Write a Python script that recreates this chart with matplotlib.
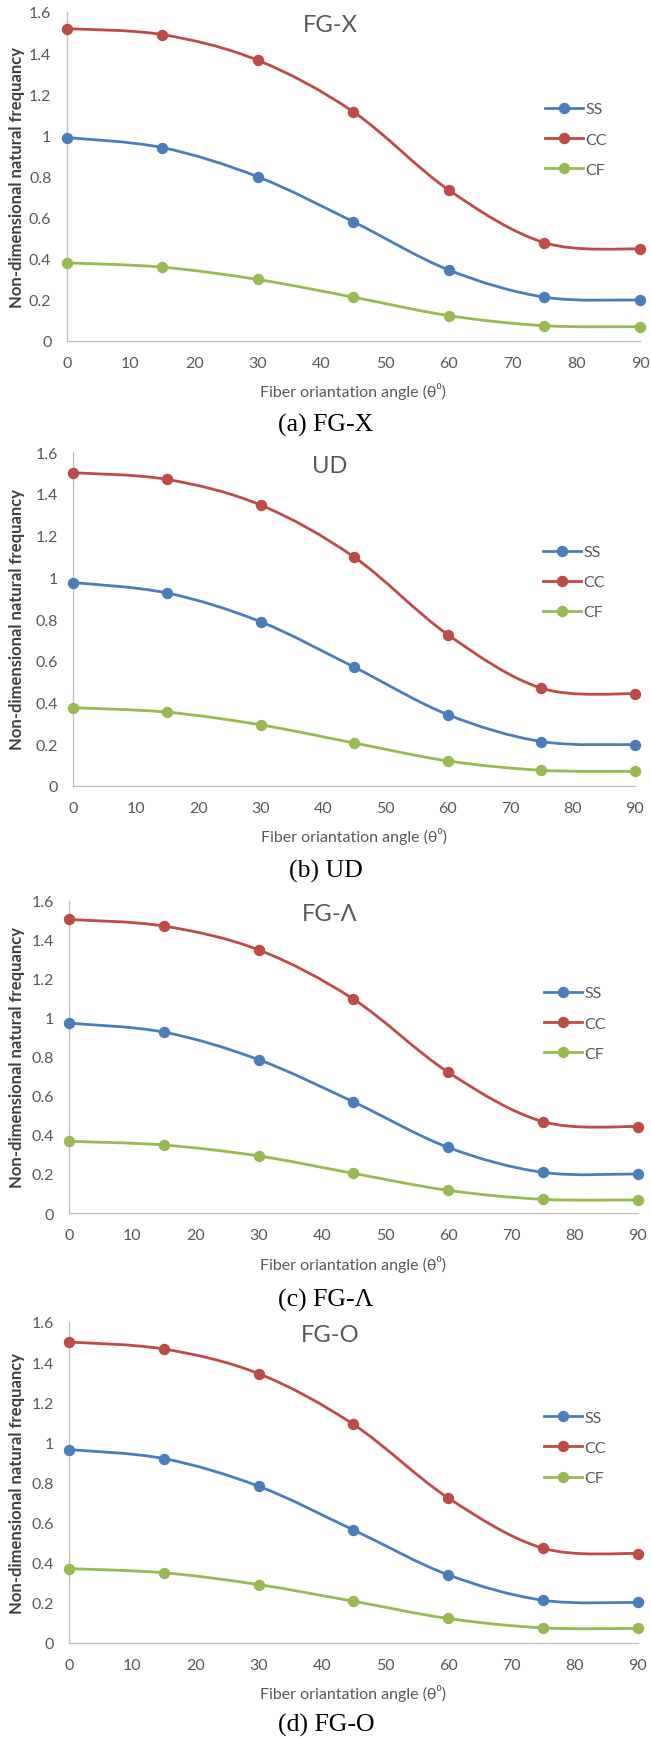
import numpy as np
import matplotlib
matplotlib.use("Agg")
import matplotlib.pyplot as plt
from matplotlib.path import Path
from matplotlib.patches import PathPatch
from matplotlib.lines import Line2D

plt.rcParams['font.family'] = ['Lato', 'DejaVu Sans']

# ---------------- data ----------------
angles = [0, 15, 30, 45, 60, 75, 90]
series_names = ["SS", "CC", "CF"]

fgx_ss = [0.989, 0.940, 0.798, 0.579, 0.344, 0.212, 0.198]
fgx_cc = [1.519, 1.490, 1.365, 1.114, 0.733, 0.477, 0.446]
fgx_cf = [0.379, 0.358, 0.298, 0.212, 0.122, 0.073, 0.068]

ud_ss = [0.975, 0.925, 0.787, 0.569, 0.341, 0.212, 0.197]
ud_cc = [1.502, 1.470, 1.347, 1.097, 0.725, 0.468, 0.441]
ud_cf = [0.374, 0.353, 0.292, 0.205, 0.119, 0.074, 0.069]

fgl_ss = [0.972, 0.926, 0.785, 0.569, 0.336, 0.208, 0.200]
fgl_cc = [1.503, 1.469, 1.347, 1.095, 0.721, 0.468, 0.442]
fgl_cf = [0.367, 0.348, 0.292, 0.203, 0.116, 0.070, 0.067]

fgo_ss = [0.963, 0.918, 0.780, 0.562, 0.338, 0.211, 0.200]
fgo_cc = [1.500, 1.465, 1.342, 1.089, 0.722, 0.471, 0.444]
fgo_cf = [0.369, 0.348, 0.289, 0.206, 0.120, 0.073, 0.070]

titles = ["FG-X", "UD", "FG-\u039b", "FG-O"]
captions = ["(a) FG-X", "(b) UD", "(c) FG-\u039b", "(d) FG-O"]
panel_data = [
    (fgx_ss, fgx_cc, fgx_cf),
    (ud_ss, ud_cc, ud_cf),
    (fgl_ss, fgl_cc, fgl_cf),
    (fgo_ss, fgo_cc, fgo_cf),
]
yticks = [0, 0.2, 0.4, 0.6, 0.8, 1.0, 1.2, 1.4, 1.6]
ytick_labels = ["0", "0.2", "0.4", "0.6", "0.8", "1", "1.2", "1.4", "1.6"]
xticks = [0, 10, 20, 30, 40, 50, 60, 70, 80, 90]
xlabel = "Fiber oriantation angle (\u03b8\u2070)"
ylabel = "Non-dimensional natural frequancy"

colors = ["#4A7EBB", "#BE4B48", "#98B954"]

# ---------------- layout (pixels) ----------------
W, H = 651, 1740
boxes = [
    (66.7, 640.0, 13.0, 341.7),
    (73.3, 635.0, 453.3, 786.7),
    (69.3, 637.5, 901.5, 1214.0),
    (69.3, 637.5, 1323.0, 1643.5),
]
legend_top = [104.3, 547.0, 988.3, 1412.7]
legend_left = [545.0, 543.0, 543.5, 543.5]
caption_y = [425, 871, 1300, 1725]
title_x = 330

fig = plt.figure(figsize=(W / 100, H / 100), dpi=100)


def fx(px):
    return px / W


def fy(py):
    return 1 - py / H


def excel_smooth_path(x, y):
    pts = np.column_stack([x, y]).astype(float)
    n = len(pts)
    verts = [pts[0]]
    codes = [Path.MOVETO]
    for i in range(n - 1):
        p0 = pts[i - 1] if i > 0 else pts[i]
        p1 = pts[i]
        p2 = pts[i + 1]
        p3 = pts[i + 2] if i + 2 < n else pts[i + 1]
        c1 = p1 + (p2 - p0) / 6.0
        c2 = p2 - (p3 - p1) / 6.0
        verts += [c1, c2, p2]
        codes += [Path.CURVE4] * 3
    return Path(verts, codes)


for k in range(4):
    l, r, t, b = boxes[k]
    ax = fig.add_axes([fx(l), fy(b), (r - l) / W, (b - t) / H])
    for s, (vals, c) in enumerate(zip(panel_data[k], colors)):
        patch = PathPatch(excel_smooth_path(angles, vals), facecolor="none",
                          edgecolor=c, lw=2.0, capstyle="round",
                          joinstyle="round", zorder=2)
        ax.add_patch(patch)
        ax.plot(angles, vals, linestyle="none", marker="o", ms=7.2,
                color=c, clip_on=False, zorder=3)
    ax.set_xlim(0, 90)
    ax.set_ylim(0, 1.6)
    ax.set_xticks(xticks)
    ax.set_yticks(yticks)
    ax.set_yticklabels(ytick_labels)
    ax.tick_params(length=0, labelsize=11.5, labelcolor="#595959")
    ax.tick_params(axis="y", pad=11)
    ax.tick_params(axis="x", pad=11)
    for sp in ["top", "right"]:
        ax.spines[sp].set_visible(False)
    for sp in ["left", "bottom"]:
        ax.spines[sp].set_color("#BFBFBF")
        ax.spines[sp].set_linewidth(0.9)
    ax.patch.set_alpha(0)

    ax.set_xlabel(xlabel, fontsize=11.5, color="#595959", labelpad=9)
    ax.set_ylabel(ylabel, fontsize=12, color="#404040", fontweight="bold")
    yl_x = 17
    ax.yaxis.set_label_coords((yl_x - l) / (r - l), 0.5)
    ax.yaxis.label.set_rotation_mode("default")
    ax.yaxis.label.set_verticalalignment("center")
    ax.yaxis.label.set_horizontalalignment("center")

    fig.text(fx(title_x), fy(t + 13), titles[k], fontsize=17,
             color="#595959", ha="center", va="center")

    handles = [Line2D([], [], color=c, lw=2.0, marker="o", ms=7.2)
               for c in colors]
    ax.legend(handles, series_names, loc="upper left",
              bbox_to_anchor=(fx(legend_left[k]), fy(legend_top[k] - 1)),
              bbox_transform=fig.transFigure, frameon=False,
              borderpad=0, borderaxespad=0, handlelength=2.4,
              handletextpad=0.15, labelspacing=1.0, fontsize=11.5,
              labelcolor="#595959")

    fig.text(fx(326), fy(caption_y[k]), captions[k], fontsize=18.5,
             family=["Liberation Serif", "DejaVu Serif"], color="black",
             ha="center", va="center")

fig.savefig("out.png", dpi=100)
